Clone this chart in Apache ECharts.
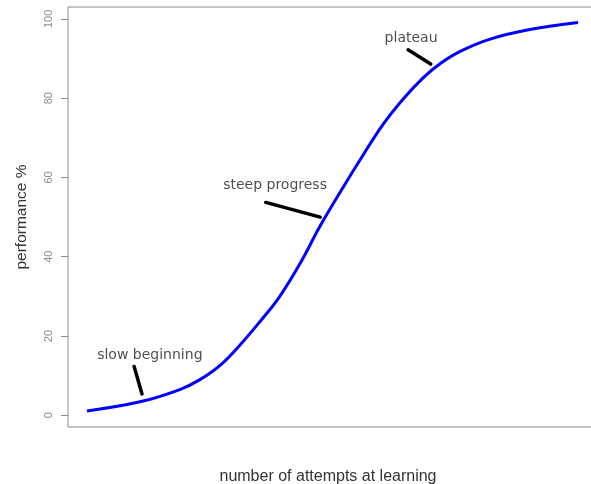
<!DOCTYPE html>
<html>
<head>
<meta charset="utf-8">
<script src="https://cdn.jsdelivr.net/npm/echarts@6/dist/echarts.min.js"></script>
<style>html,body{margin:0;padding:0;background:#fff;}#c{width:591px;height:484px;}</style>
</head>
<body>
<div id="c"></div>
<script>
// Learning curve values
const attempts    = [0, 10.8, 18.9, 23.0, 27.1, 31.2, 35.2, 39.2, 43.4, 47.5, 52.2, 56.3, 60.3, 64.4, 68.5, 71.9, 76.0, 82.1, 90.2, 100];
const performance = [1.1, 3.4, 6.5, 9.0, 12.6, 17.8, 23.6, 29.9, 38.3, 47.8, 57.6, 65.8, 73.4, 79.8, 85.2, 88.7, 91.8, 94.9, 97.3, 99.1];
const yTicks = [0, 20, 40, 60, 80, 100];

// Annotation labels and their pointer segments (data coordinates)
const noteTexts  = ['slow beginning', 'steep progress', 'plateau'];
const noteLabelX = [12.8, 38.3, 66.0];
const noteLabelY = [15.2, 58.1, 95.0];
const noteLineX0 = [9.6, 36.4, 65.4];
const noteLineY0 = [12.3, 53.7, 92.2];
const noteLineX1 = [11.2, 47.5, 70.0];
const noteLineY1 = [5.4, 50.0, 88.6];

const chart = echarts.init(document.getElementById('c'), null, {renderer: 'canvas'});

const series = [{
  type: 'line',
  data: attempts.map((x, i) => [x, performance[i]]),
  smooth: 0.4,
  showSymbol: false,
  lineStyle: {color: '#0000ff', width: 3},
  z: 3
}];
noteTexts.forEach((t, i) => {
  series.push({
    type: 'line',
    data: [[noteLineX0[i], noteLineY0[i]], [noteLineX1[i], noteLineY1[i]]],
    showSymbol: false,
    lineStyle: {color: '#000', width: 3.5, cap: 'round'},
    z: 4
  });
});
series.push({
  type: 'scatter',
  data: noteTexts.map((t, i) => ({value: [noteLabelX[i], noteLabelY[i]], name: t})),
  symbolSize: 0,
  label: {
    show: true,
    position: 'inside',
    formatter: p => p.name,
    fontFamily: 'DejaVu Sans',
    fontSize: 14,
    color: '#222'
  },
  z: 5
});

chart.setOption({
  animation: false,
  backgroundColor: '#fff',
  grid: {left: 68, top: 7, width: 560, height: 420, outerBoundsMode: 'none', containLabel: false, show: true, borderColor: '#8a8a8a', borderWidth: 1, backgroundColor: 'transparent'},
  xAxis: {
    type: 'value', min: -3.87, max: 110.18,
    axisLine: {show: false, onZero: false}, axisTick: {show: false}, axisLabel: {show: false}, splitLine: {show: false},
    name: 'number of attempts at learning', nameLocation: 'middle', nameGap: 42,
    nameTextStyle: {fontFamily: 'Liberation Sans', fontSize: 16, color: '#333', padding: [0, 40, 0, 0]}
  },
  yAxis: {
    type: 'value', min: -2.95, max: 103,
    axisLine: {show: false, onZero: false},
    splitLine: {show: false},
    axisTick: {show: true, inside: false, length: 7, customValues: yTicks, lineStyle: {color: '#8a8a8a'}},
    axisLabel: {show: true, customValues: yTicks, rotate: 90, margin: 14, fontFamily: 'Liberation Sans', fontSize: 11, color: '#8c8c8c'},
    name: 'performance %', nameLocation: 'middle', nameRotate: 90, nameGap: 38,
    nameTextStyle: {fontFamily: 'Liberation Sans', fontSize: 15.5, color: '#333'}
  },
  series: series
});
</script>
</body>
</html>
